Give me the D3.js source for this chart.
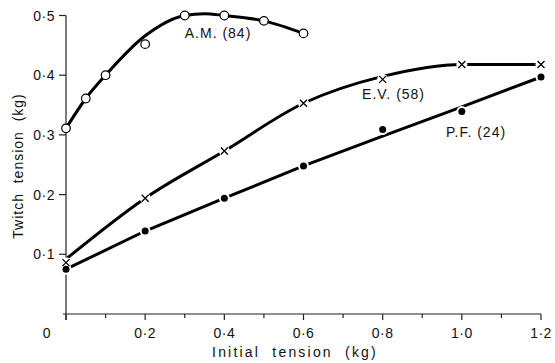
<!DOCTYPE html>
<html>
<head>
<meta charset="utf-8">
<script src="https://cdn.jsdelivr.net/npm/d3@7"></script>
<style>
  body { margin: 0; background: #fff; }
  text { font-family: "Liberation Sans", Arial, sans-serif; fill: #111; }
</style>
</head>
<body>
<div id="chart"></div>
<script>
// measured points
const amX = [0, 0.05, 0.1, 0.2, 0.3, 0.4, 0.5, 0.6];
const amY = [0.311, 0.361, 0.40, 0.452, 0.50, 0.50, 0.491, 0.47];
const evX = [0, 0.2, 0.4, 0.6, 0.8, 1.0, 1.2];
const evY = [0.086, 0.194, 0.273, 0.353, 0.393, 0.418, 0.418];
const pfX = [0, 0.2, 0.4, 0.6, 0.8, 1.0, 1.2];
const pfY = [0.075, 0.139, 0.194, 0.248, 0.309, 0.339, 0.397];

// hand-drawn fit lines
const amFitX = [0, 0.05, 0.1, 0.2, 0.3, 0.35, 0.4, 0.5, 0.6];
const amFitY = [0.311, 0.361, 0.40, 0.466, 0.50, 0.503, 0.50, 0.491, 0.47];
const evFitX = [0, 0.2, 0.4, 0.6, 0.8, 1.0, 1.2];
const evFitY = [0.092, 0.194, 0.273, 0.353, 0.398, 0.418, 0.418];
const pfFitX = [0, 0.2, 0.4, 0.6, 0.8, 1.0, 1.2];
const pfFitY = [0.075, 0.139, 0.194, 0.248, 0.298, 0.347, 0.397];

const xTicks = [0, 0.2, 0.4, 0.6, 0.8, 1.0, 1.2];
const xMinor = [0.1, 0.3, 0.5, 0.7, 0.9, 1.1];
const yTicks = [0.1, 0.2, 0.3, 0.4, 0.5];

const labels = [
  {text: "A.M. (84)", x: 0.30, y: 0.462},
  {text: "E.V. (58)", x: 0.748, y: 0.36},
  {text: "P.F. (24)", x: 0.96, y: 0.296}
];

const width = 555, height = 363;

const svg = d3.select("#chart")
  .append("svg")
  .attr("width", width)
  .attr("height", height);

const x = d3.scaleLinear().domain([0, 1.2]).range([66, 541]);
const y = d3.scaleLinear().domain([0, 0.5]).range([314, 15.5]);

const fmt = d => d === 0 ? "0" : d3.format(".1f")(d).replace(".", "\u00b7");

// x axis
svg.append("line")
  .attr("x1", x(0) - 3).attr("x2", x(1.2))
  .attr("y1", y(0)).attr("y2", y(0))
  .attr("stroke", "#222").attr("stroke-width", 1.2);
svg.selectAll(".xt").data(xTicks).join("line")
  .attr("x1", d => x(d)).attr("x2", d => x(d))
  .attr("y1", y(0)).attr("y2", y(0) + 6)
  .attr("stroke", "#222").attr("stroke-width", 1.2);
svg.selectAll(".xm").data(xMinor).join("line")
  .attr("x1", d => x(d)).attr("x2", d => x(d))
  .attr("y1", y(0)).attr("y2", y(0) + 4)
  .attr("stroke", "#222").attr("stroke-width", 1.2);
svg.selectAll(".xl").data(xTicks).join("text")
  .attr("x", d => d === 0 ? x(d) - 19 : x(d))
  .attr("y", 338)
  .attr("text-anchor", "middle")
  .attr("font-size", 14)
  .attr("letter-spacing", 0.5)
  .text(fmt);

// y axis
svg.append("line")
  .attr("x1", x(0)).attr("x2", x(0))
  .attr("y1", y(0) + 6).attr("y2", y(0.5))
  .attr("stroke", "#222").attr("stroke-width", 1.2);
svg.selectAll(".yt").data(yTicks).join("line")
  .attr("x1", x(0) - 7).attr("x2", x(0))
  .attr("y1", d => y(d)).attr("y2", d => y(d))
  .attr("stroke", "#222").attr("stroke-width", 1.2);
svg.selectAll(".yl").data(yTicks).join("text")
  .attr("x", 55)
  .attr("y", d => y(d) + 5)
  .attr("text-anchor", "end")
  .attr("font-size", 14)
  .attr("letter-spacing", 0.5)
  .text(fmt);

// axis titles
svg.append("text")
  .attr("x", 295).attr("y", 357)
  .attr("text-anchor", "middle")
  .attr("font-size", 14)
  .attr("letter-spacing", 2.2)
  .attr("xml:space", "preserve")
  .text("Initial  tension  (kg)");
svg.append("text")
  .attr("transform", "translate(23,166) rotate(-90)")
  .attr("text-anchor", "middle")
  .attr("font-size", 14)
  .attr("letter-spacing", 1)
  .attr("xml:space", "preserve")
  .text("Twitch  tension  (kg)");

// fit lines
const line = d3.line().x(d => x(d[0])).y(d => y(d[1]));
function drawFit(xs, ys, curve) {
  svg.append("path")
    .datum(xs.map((v, i) => [v, ys[i]]))
    .attr("d", line.curve(curve))
    .attr("fill", "none")
    .attr("stroke", "#000")
    .attr("stroke-width", 3)
    .attr("stroke-linecap", "round");
}
drawFit(amFitX, amFitY, d3.curveMonotoneX);
drawFit(evFitX, evFitY, d3.curveMonotoneX);
drawFit(pfFitX, pfFitY, d3.curveLinear);

// markers
const am = amX.map((v, i) => [v, amY[i]]);
const ev = evX.map((v, i) => [v, evY[i]]);
const pf = pfX.map((v, i) => [v, pfY[i]]);

// white gaps round the markers
svg.selectAll(".gap").data(ev.concat(pf)).join("circle")
  .attr("cx", d => x(d[0])).attr("cy", d => y(d[1]))
  .attr("r", 5.5).attr("fill", "#fff");

svg.selectAll(".am").data(am).join("circle")
  .attr("cx", d => x(d[0])).attr("cy", d => y(d[1]))
  .attr("r", 4.3)
  .attr("fill", "#fff").attr("stroke", "#000").attr("stroke-width", 1.2);

svg.selectAll(".ev").data(ev).join("path")
  .attr("transform", d => `translate(${x(d[0])},${y(d[1])})`)
  .attr("d", "M-3.5,-3.5L3.5,3.5M-3.5,3.5L3.5,-3.5")
  .attr("stroke", "#000").attr("stroke-width", 1.3);

svg.selectAll(".pf").data(pf).join("circle")
  .attr("cx", d => x(d[0])).attr("cy", d => y(d[1]))
  .attr("r", 3.5).attr("fill", "#000");

// series labels
svg.selectAll(".lab").data(labels).join("text")
  .attr("x", d => x(d.x)).attr("y", d => y(d.y))
  .attr("font-size", 14)
  .attr("letter-spacing", 1)
  .attr("xml:space", "preserve")
  .text(d => d.text);
</script>
</body>
</html>
